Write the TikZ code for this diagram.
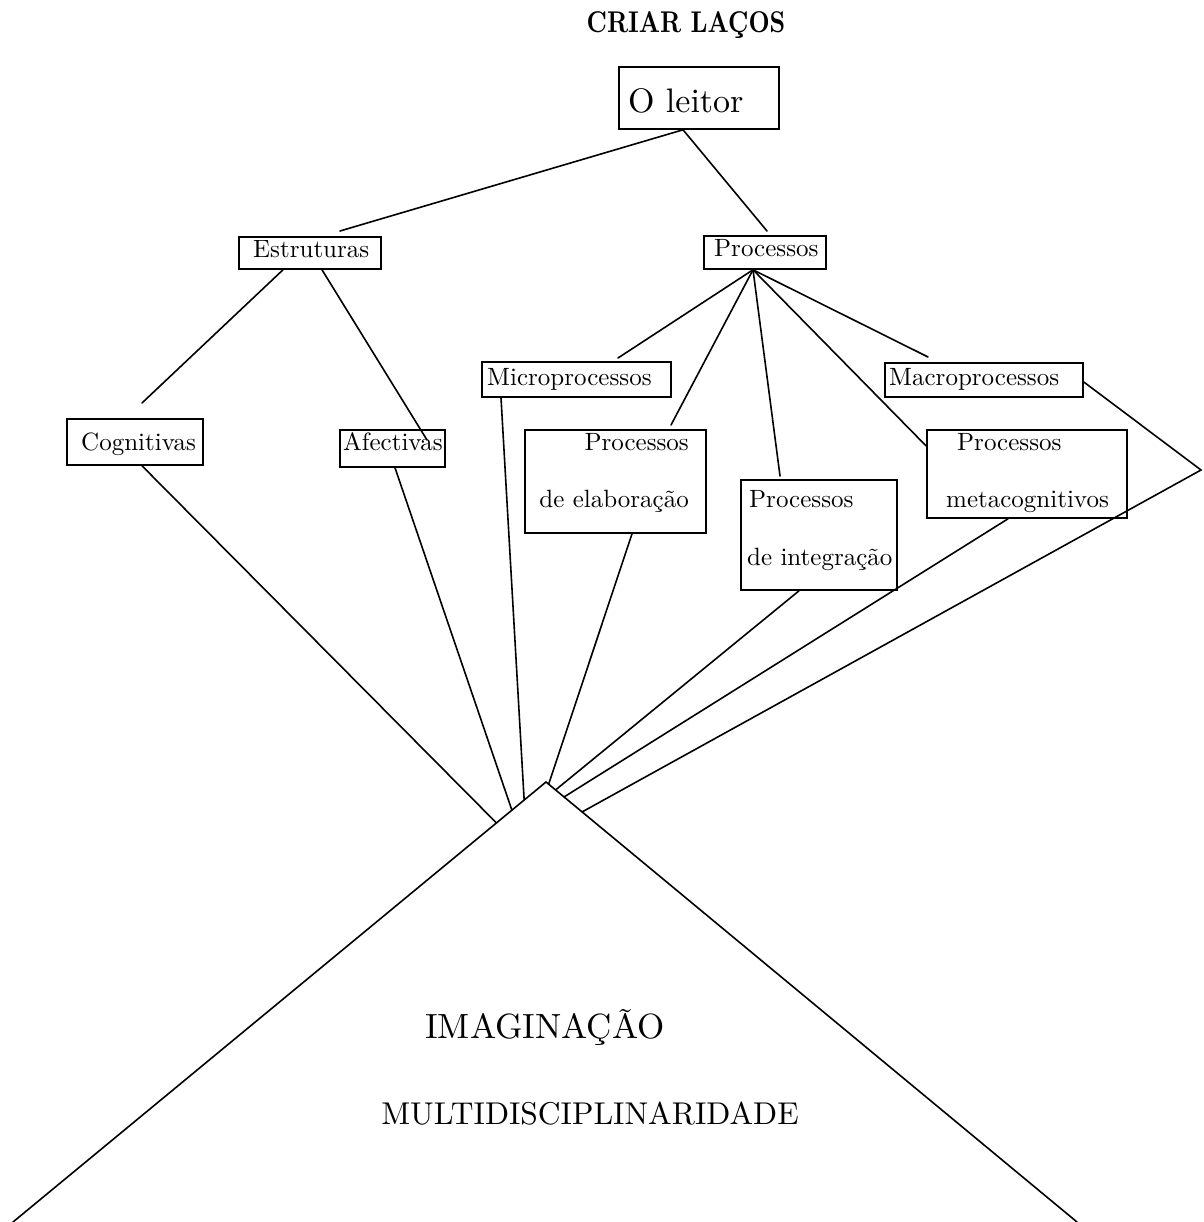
\documentclass[tikz,border=0pt]{standalone}
\usepackage{fontspec}
\setmainfont{lmroman10-regular}[Extension=.otf, BoldFont=lmroman10-bold, ItalicFont=lmroman10-italic]
\usetikzlibrary{calc}
\begin{document}
\begin{tikzpicture}[x=1pt,y=-1pt,
  box/.style={draw,line width=1.6pt,inner sep=0pt,rectangle},
  lbl/.style={inner sep=0pt,font=\fontsize{25}{30}\selectfont},
  ln/.style={line width=1.6pt,line cap=round,line join=miter}]
\useasboundingbox (0,0) rectangle (1203,1222);

% title
\node[inner sep=0pt,anchor=base,font=\fontsize{25}{30}\selectfont\bfseries] (title) at (686,33) {\scalebox{0.98}[1.2]{CRIAR LAÇOS}};

% boxes
\node[box,minimum width=160pt,minimum height=62pt] (leitor) at (699,98) {};
\node[box,minimum width=142pt,minimum height=32pt] (estr) at (310,253) {};
\node[box,minimum width=122pt,minimum height=33pt] (proc) at (765,252.5) {};
\node[box,minimum width=189pt,minimum height=35pt] (micro) at (576.5,379.5) {};
\node[box,minimum width=198pt,minimum height=34pt] (macro) at (984,380) {};
\node[box,minimum width=136pt,minimum height=46pt] (cogn) at (135,442) {};
\node[box,minimum width=105pt,minimum height=37pt] (afec) at (392.5,448.5) {};
\node[box,minimum width=181pt,minimum height=103pt] (elab) at (615.5,481.5) {};
\node[box,minimum width=156pt,minimum height=110pt] (integ) at (819,535) {};
\node[box,minimum width=200pt,minimum height=88pt] (meta) at (1027,474) {};

% texts
\node[inner sep=0pt,anchor=base west,font=\fontsize{34}{38}\selectfont] (leitor-t) at (628,113) {O leitor};
\node[lbl,anchor=base west] (estr-t) at (253,258) {Estruturas};
\node[lbl,anchor=base west] (proc-t) at (714,257) {Processos};
\node[lbl,anchor=base west] (micro-t) at (487,385) {Microprocessos};
\node[lbl,anchor=base west] (macro-t) at (889,385) {Macroprocessos};
\node[lbl,anchor=base west] (cogn-t) at (81,450) {Cognitivas};
\node[lbl,anchor=base west] (afec-t) at (343,450) {Afectivas};
\node[lbl,anchor=base east] (elab-t1) at (689,450) {Processos};
\node[lbl,anchor=base east] (elab-t2) at (689,507) {de elaboração};
\node[lbl,anchor=base west] (integ-t1) at (749,507) {Processos};
\node[lbl,anchor=base west] (integ-t2) at (747,565) {de integração};
\node[lbl,anchor=base west] (meta-t1) at (957,450) {Processos};
\node[lbl,anchor=base west] (meta-t2) at (946,507) {metacognitivos};

\node[inner sep=0pt,anchor=base,font=\fontsize{35}{40}\selectfont] (imag) at (545,1038) {IMAGINAÇÃO};
\node[inner sep=0pt,anchor=base,font=\fontsize{31.5}{40}\selectfont] (multi) at (590,1124) {MULTIDISCIPLINARIDADE};

% free ends
\coordinate (c-le) at (340,231);
\coordinate (c-lp) at (767,231);
\coordinate (c-ec) at (142,403);
\coordinate (c-ea) at (427,440);
\coordinate (c-pm) at (618,358);
\coordinate (c-pe) at (671,425);
\coordinate (c-pi) at (780,476);
\coordinate (c-pma) at (928,357);
\coordinate (vtip) at (1201,470);

% triangle
\coordinate (apex) at (546,782);
\coordinate (triL) at (13,1222);
\coordinate (triR) at (1077,1222);
\draw[ln] (triL) -- (apex) -- (triR);

% connectors
\draw[ln] ([xshift=-16pt]leitor.south) -- (c-le);
\draw[ln] ([xshift=-16pt]leitor.south) -- (c-lp);
\draw[ln] ([xshift=-27pt]estr.south) -- (c-ec);
\draw[ln] ([xshift=12pt]estr.south) -- (c-ea);
\draw[ln] ([xshift=-12pt]proc.south) -- (c-pm);
\draw[ln] ([xshift=-12pt]proc.south) -- (c-pe);
\draw[ln] ([xshift=-12pt]proc.south) -- (c-pi);
\draw[ln] ([xshift=-12pt]proc.south) -- ([yshift=28pt]meta.west);
\draw[ln] ([xshift=-12pt]proc.south) -- (c-pma);
\draw[ln] ([yshift=-2pt]macro.east) -- (vtip) -- ($(apex)!0.068!(triR)$);
\draw[ln] ([xshift=7pt]cogn.south) -- ($(apex)!0.093!(triL)$);
\draw[ln] ([xshift=2.5pt]afec.south) -- ($(apex)!0.064!(triL)$);
\draw[ln] ([xshift=-75.5pt]micro.south) -- ($(apex)!0.041!(triL)$);
\draw[ln] ([xshift=16.5pt]elab.south) -- ($(apex)!0.005!(triR)$);
\draw[ln] ([xshift=-20pt]integ.south) -- ($(apex)!0.018!(triR)$);
\draw[ln] ([xshift=-19pt]meta.south) -- ($(apex)!0.034!(triR)$);
\end{tikzpicture}
\end{document}
